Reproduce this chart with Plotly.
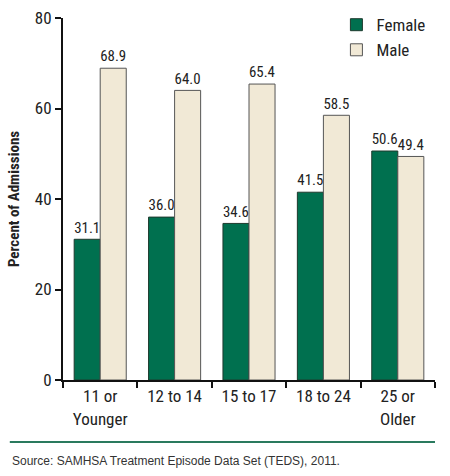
import plotly.graph_objects as go

categories = ["11 or<br>Younger", "12 to 14", "15 to 17", "18 to 24", "25 or<br>Older"]
female = [31.1, 36.0, 34.6, 41.5, 50.6]
male = [68.9, 64.0, 65.4, 58.5, 49.4]

FONT = "Liberation Sans Narrow, Arial Narrow, Roboto Condensed, sans-serif"
GREEN = "#00704f"
BEIGE = "#f1e9d6"

fig = go.Figure()
fig.add_trace(go.Bar(x=categories, y=female, name="Female",
                     marker=dict(color=GREEN, line=dict(color="#1e3a2e", width=1)),
                     text=[f"{v:.1f}" for v in female], textposition="outside",
                     cliponaxis=False, textfont=dict(size=16, color="#222")))
fig.add_trace(go.Bar(x=categories, y=male, name="Male",
                     marker=dict(color=BEIGE, line=dict(color="#555", width=1)),
                     text=[f"{v:.1f}" for v in male], textposition="outside",
                     cliponaxis=False, textfont=dict(size=16, color="#222")))

fig.update_layout(
    width=450, height=476,
    margin=dict(l=63, r=15, t=18, b=96, autoexpand=False),
    paper_bgcolor="white", plot_bgcolor="white",
    font=dict(family=FONT, size=17, color="#222"),
    barmode="group", bargap=0.3, bargroupgap=0,
    showlegend=True,
    legend=dict(x=0.735, y=1.03, xanchor="left", yanchor="top",
                font=dict(size=17), itemwidth=30, tracegroupgap=4,
                bgcolor="rgba(0,0,0,0)"),
)
fig.update_xaxes(showline=True, linecolor="#111", linewidth=2,
                 ticks="outside", tickson="boundaries", ticklen=6,
                 tickcolor="#111", tickwidth=2, showgrid=False,
                 tickfont=dict(size=17), automargin=False)
fig.update_yaxes(range=[0, 80], dtick=20, showline=True, linecolor="#111",
                 linewidth=2, ticks="outside", ticklen=6, tickcolor="#111",
                 tickwidth=2, showgrid=False, zeroline=False,
                 tickfont=dict(size=17), automargin=False,
                 title=dict(text="<b>Percent of Admissions</b>", font=dict(size=15),
                            standoff=12))

fig.add_shape(type="line", xref="paper", yref="paper",
              x0=-0.143, x1=1.0, y0=-0.171, y1=-0.171,
              line=dict(color="#2a7a5e", width=2))
fig.add_annotation(text="Source: SAMHSA Treatment Episode Data Set (TEDS), 2011.",
                   xref="paper", yref="paper", x=-0.143, y=-0.2,
                   xanchor="left", yanchor="top", showarrow=False,
                   font=dict(family="Liberation Sans, Arial, sans-serif", size=12, color="#333"))

fig.write_html("out.html", config={"displayModeBar": False},
               post_script="document.body.style.margin='0';")
